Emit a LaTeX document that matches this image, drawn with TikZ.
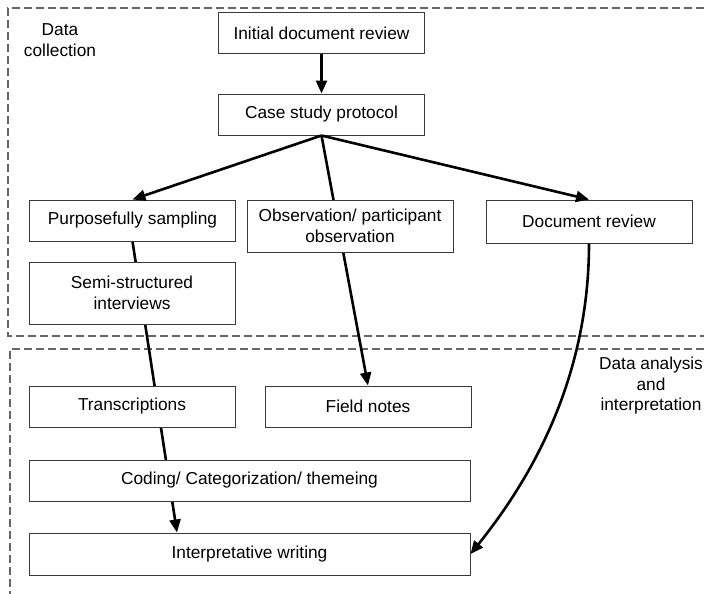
\documentclass[tikz,border=0pt]{standalone}
\usepackage{fontspec}
\setmainfont{Liberation Sans}
\usepackage{xcolor}
\usetikzlibrary{arrows.meta, backgrounds}
\definecolor{boxgray}{HTML}{3A3A3A}

\begin{document}
\begin{tikzpicture}[x=1pt, y=-1pt,
      box/.style={rectangle, draw=boxgray, line width=1pt, fill=white, inner sep=0pt,
                  minimum width=206pt, minimum height=41pt, font=\fontsize{17.3}{20.5}\selectfont, align=center},
      lbl/.style={font=\fontsize{17.3}{20.5}\selectfont, align=center},
      arr/.style={-{Triangle[length=13pt,width=11pt]}, line width=2.6pt},
      frame/.style={draw=black!60, line width=1.1pt, dash pattern=on 8pt off 4pt}
    ]
      \useasboundingbox (0,0) rectangle (704,594);
      \node[lbl] (collect) at (60,40) {Data\\collection};
      \node[lbl] (analysis) at (651,386) {Data analysis\\and\\interpretation};
      \node[box] (init) at (321.5,33.5) {Initial document review};
      \node[box] (proto) at (321.5,114.5) {Case study protocol};
      \node[box] (samp) at (132.5,220.5) {Purposefully sampling};
      \node[box, minimum height=52pt] (obs) at (350,226) {Observation/ participant\\observation};
      \node[box, minimum height=43pt] (docrev) at (589,221.5) {Document review};
      \node[box, minimum height=62pt] (semi) at (132,293) {Semi-structured\\interviews};
      \node[box] (trans) at (132,406.5) {Transcriptions};
      \node[box] (field) at (368,406.5) {Field notes};
      \node[box, minimum width=441pt] (coding) at (249.5,480.5) {Coding/ Categorization/ themeing};
      \node[box, minimum width=441pt, minimum height=42pt] (interp) at (249.5,554) {Interpretative writing};
      \begin{scope}[on background layer]
        % the two phases
        \draw[frame] (704,8) -- (8,8) -- (8,336) -- (704,336);
        \draw[frame] (704,349) -- (10,349) -- (10,594);
        \draw[arr] (proto.south) -- (field.north);
        \draw[arr] (samp.south) -- ([xshift=-72.5pt]interp.north);
      \end{scope}
      \draw[arr] (init.south) -- (proto.north);
      \draw[arr] (proto.south) -- (samp.north);
      \draw[arr] (proto.south) -- (docrev.north);
      \draw[arr] (docrev.south) .. controls (589,380) and (530,480) .. (interp.east);
\end{tikzpicture}
\end{document}
